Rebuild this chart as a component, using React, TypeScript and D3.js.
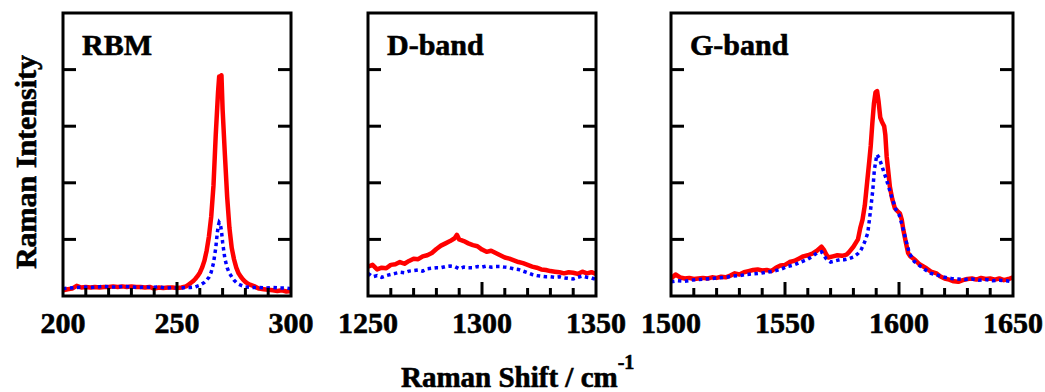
import React from 'react';
import * as d3 from 'd3';

// Raman spectra, intensity in arbitrary units (frame spans 0..5)
const rbmRed: [number, number][] = [
  [200, 0.10], [202, 0.12], [204, 0.13], [206, 0.18], [208, 0.15], [210, 0.16], [212, 0.15],
  [214, 0.16], [216, 0.15], [218, 0.16], [220, 0.16], [222, 0.17], [224, 0.16], [226, 0.17],
  [228, 0.16], [230, 0.17], [232, 0.16], [234, 0.16], [236, 0.15], [238, 0.16], [240, 0.13],
  [242, 0.15], [244, 0.14], [246, 0.15], [248, 0.15], [250, 0.14], [252, 0.15], [254, 0.17],
  [255, 0.2], [256, 0.23], [257, 0.26], [258, 0.3], [259, 0.35], [260, 0.41], [261, 0.5],
  [262, 0.62], [263, 0.8], [264, 1.05], [265, 1.4], [266, 1.95], [267, 2.85], [268, 3.6],
  [268.5, 3.88], [269, 3.8], [269.5, 3.9], [270, 3.3], [271, 2.5], [272, 1.75], [273, 1.2],
  [274, 0.85], [275, 0.65], [276, 0.5], [277, 0.4], [278, 0.34], [279, 0.29], [280, 0.25],
  [281, 0.22], [282, 0.2], [284, 0.17], [286, 0.13], [288, 0.12], [290, 0.11], [292, 0.1],
  [294, 0.09], [296, 0.1], [298, 0.08], [300, 0.09],
];
const rbmBlue: [number, number][] = [
  [200, 0.13], [203, 0.14], [206, 0.15], [209, 0.16], [212, 0.15], [215, 0.16], [218, 0.17],
  [221, 0.16], [224, 0.16], [227, 0.17], [230, 0.16], [233, 0.15], [236, 0.16], [239, 0.15],
  [242, 0.16], [245, 0.14], [248, 0.15], [251, 0.14], [254, 0.15], [256, 0.15], [258, 0.16],
  [260, 0.19], [262, 0.24], [263, 0.28], [264, 0.33], [265, 0.42], [266, 0.58], [267, 0.85],
  [267.5, 1.05], [268, 1.22], [268.5, 1.3], [269, 1.27], [269.5, 1.15], [270, 0.95], [271, 0.66],
  [272, 0.5], [273, 0.4], [274, 0.34], [275, 0.28], [276, 0.24], [277, 0.21], [278, 0.19],
  [280, 0.16], [283, 0.15], [286, 0.15], [289, 0.14], [292, 0.15], [295, 0.14], [298, 0.14],
  [300, 0.13],
];

const dRed: [number, number][] = [
  [1250, 0.52], [1252, 0.55], [1254, 0.47], [1256, 0.5], [1258, 0.49], [1260, 0.55], [1262, 0.56],
  [1264, 0.6], [1266, 0.57], [1268, 0.62], [1270, 0.66], [1272, 0.65], [1274, 0.7], [1276, 0.72],
  [1278, 0.76], [1280, 0.83], [1282, 0.89], [1284, 0.93], [1286, 0.97], [1288, 1.02], [1289, 1.08],
  [1290, 1.0], [1292, 0.97], [1294, 0.93], [1296, 0.9], [1298, 0.88], [1300, 0.82], [1302, 0.78],
  [1304, 0.8], [1306, 0.76], [1308, 0.72], [1310, 0.68], [1312, 0.66], [1314, 0.63], [1316, 0.6],
  [1318, 0.58], [1320, 0.55], [1322, 0.52], [1324, 0.5], [1326, 0.47], [1328, 0.46], [1330, 0.44],
  [1332, 0.43], [1334, 0.42], [1336, 0.4], [1338, 0.42], [1340, 0.41], [1342, 0.39], [1344, 0.43],
  [1346, 0.4], [1348, 0.42], [1350, 0.39],
];
const dBlue: [number, number][] = [
  [1250, 0.4], [1252, 0.34], [1254, 0.36], [1256, 0.33], [1258, 0.36], [1260, 0.38], [1262, 0.4],
  [1264, 0.42], [1266, 0.41], [1268, 0.44], [1270, 0.45], [1272, 0.46], [1274, 0.44], [1276, 0.48],
  [1278, 0.49], [1280, 0.5], [1282, 0.5], [1284, 0.52], [1286, 0.53], [1288, 0.52], [1290, 0.48],
  [1292, 0.51], [1294, 0.5], [1296, 0.5], [1298, 0.52], [1300, 0.51], [1302, 0.53], [1304, 0.51],
  [1306, 0.52], [1308, 0.52], [1310, 0.51], [1312, 0.5], [1314, 0.48], [1316, 0.47], [1318, 0.44],
  [1320, 0.41], [1322, 0.38], [1324, 0.36], [1326, 0.35], [1328, 0.34], [1330, 0.34], [1332, 0.33],
  [1334, 0.34], [1336, 0.32], [1338, 0.31], [1340, 0.3], [1342, 0.33], [1344, 0.35], [1346, 0.33],
  [1348, 0.32], [1350, 0.29],
];

const gRed: [number, number][] = [
  [1500, 0.31], [1502, 0.38], [1504, 0.33], [1506, 0.31], [1508, 0.32], [1510, 0.3], [1512, 0.31],
  [1514, 0.32], [1516, 0.31], [1518, 0.33], [1520, 0.32], [1522, 0.34], [1524, 0.33], [1526, 0.36],
  [1528, 0.4], [1530, 0.38], [1532, 0.42], [1534, 0.44], [1536, 0.46], [1538, 0.47], [1540, 0.45],
  [1542, 0.46], [1544, 0.44], [1546, 0.5], [1548, 0.54], [1550, 0.55], [1552, 0.6], [1554, 0.62],
  [1556, 0.66], [1558, 0.7], [1560, 0.72], [1562, 0.75], [1564, 0.8], [1566, 0.87], [1567, 0.82],
  [1568, 0.74], [1569, 0.68], [1571, 0.7], [1573, 0.72], [1575, 0.71], [1577, 0.73], [1578, 0.77],
  [1580, 0.87], [1582, 1.0], [1583, 1.2], [1584, 1.35], [1585, 1.6], [1586, 2.0], [1587, 2.4],
  [1587.6, 2.65], [1588.3, 3.05], [1589, 3.4], [1589.7, 3.6], [1590.4, 3.62], [1591, 3.45],
  [1591.8, 3.15], [1592.5, 3.08], [1593.5, 3.0], [1594, 2.85], [1594.6, 2.46], [1595.3, 2.2],
  [1596, 1.93], [1597, 1.72], [1598.2, 1.55], [1599.3, 1.5], [1600.4, 1.46], [1601.2, 1.35],
  [1601.9, 1.17], [1603, 0.95], [1604, 0.76], [1605, 0.7], [1607, 0.64], [1609, 0.56], [1612, 0.49],
  [1614, 0.43], [1616.5, 0.4], [1618, 0.35], [1620, 0.31], [1622, 0.29], [1624, 0.26], [1626, 0.25],
  [1628, 0.28], [1630, 0.3], [1632, 0.31], [1634, 0.29], [1636, 0.32], [1638, 0.3], [1640, 0.31],
  [1642, 0.29], [1644, 0.31], [1646, 0.28], [1648, 0.3], [1650, 0.33],
];
const gBlue: [number, number][] = [
  [1500, 0.25], [1503, 0.27], [1506, 0.26], [1509, 0.28], [1512, 0.29], [1515, 0.3], [1518, 0.31],
  [1521, 0.32], [1524, 0.33], [1527, 0.35], [1530, 0.36], [1533, 0.38], [1536, 0.39], [1539, 0.4],
  [1542, 0.42], [1545, 0.44], [1548, 0.47], [1551, 0.52], [1554, 0.55], [1557, 0.6], [1560, 0.65],
  [1562, 0.7], [1564, 0.76], [1566, 0.78], [1568, 0.66], [1570, 0.6], [1572, 0.62], [1574, 0.64],
  [1576, 0.64], [1578, 0.66], [1580, 0.69], [1582, 0.75], [1583.3, 0.81], [1584.8, 0.94],
  [1586.3, 1.11], [1587, 1.34], [1587.7, 1.58], [1588.5, 1.87], [1589.2, 2.23], [1590.3, 2.5],
  [1591.3, 2.44], [1592.8, 2.26], [1594.3, 2.08], [1595.6, 1.91], [1597.2, 1.7], [1598.7, 1.52],
  [1600.1, 1.43], [1601.6, 1.22], [1603, 0.99], [1604.5, 0.76], [1606.7, 0.61], [1609.6, 0.52],
  [1612, 0.45], [1614, 0.4], [1617.5, 0.36], [1620, 0.33], [1623, 0.31], [1626, 0.3], [1629, 0.29],
  [1632, 0.3], [1635, 0.28], [1638, 0.29], [1641, 0.27], [1644, 0.28], [1647, 0.27], [1650, 0.25],
];

const panelTitles = ['RBM', 'D-band', 'G-band'];
const rbmTicks = [200, 250, 300];
const dTicks = [1250, 1300, 1350];
const gTicks = [1500, 1550, 1600, 1650];
const yTicks = [1, 2, 3, 4];

const font = '"Liberation Serif", "Times New Roman", serif';
const top = 13;
const bottom = 296;
const pxPerUnit = 2.28;

const panels = [
  { title: panelTitles[0], left: 63, domain: [200, 300], ticks: rbmTicks, red: rbmRed, blue: rbmBlue },
  { title: panelTitles[1], left: 368, domain: [1250, 1350], ticks: dTicks, red: dRed, blue: dBlue },
  { title: panelTitles[2], left: 671, domain: [1500, 1650], ticks: gTicks, red: gRed, blue: gBlue },
];

// heavy bold text, like the reference's blocky serif glyphs
const heavy = { fontFamily: font, fontWeight: 'bold' as const, stroke: '#000', strokeWidth: 0.6 };

function Panel({ p, idx }: { p: typeof panels[number]; idx: number }) {
  const width = (p.domain[1] - p.domain[0]) * pxPerUnit;
  const x = d3.scaleLinear().domain(p.domain).range([p.left, p.left + width]);
  const y = d3.scaleLinear().domain([0, 5]).range([bottom, top]);
  const line = d3.line<[number, number]>().x(d => x(d[0])).y(d => y(d[1]));
  const minor = d3.range(p.domain[0] + 10, p.domain[1], 10).filter(v => v % 50 !== 0);
  const major = p.ticks.filter(v => v > p.domain[0] && v < p.domain[1]);
  const clipId = `clip${idx}`;
  return (
    <g>
      <defs>
        <clipPath id={clipId}>
          <rect x={p.left} y={top} width={width} height={bottom - top} />
        </clipPath>
      </defs>
      <g clipPath={`url(#${clipId})`}>
        <path d={line(p.red) || ''} fill="none" stroke="#ff0000" strokeWidth={4.5} strokeLinejoin="round" />
        <path d={line(p.blue) || ''} fill="none" stroke="#0000ff" strokeWidth={3.5} strokeDasharray="3.5 3.5" />
      </g>
      {yTicks.map(t => (
        <g key={t} stroke="#000" strokeWidth={3}>
          <line x1={p.left} x2={p.left + 13} y1={y(t)} y2={y(t)} />
          <line x1={p.left + width - 13} x2={p.left + width} y1={y(t)} y2={y(t)} />
        </g>
      ))}
      {minor.map(t => (
        <line key={t} x1={x(t)} x2={x(t)} y1={bottom} y2={bottom - 8} stroke="#000" strokeWidth={3} />
      ))}
      {major.map(t => (
        <line key={t} x1={x(t)} x2={x(t)} y1={bottom} y2={bottom - 14} stroke="#000" strokeWidth={3} />
      ))}
      <rect x={p.left} y={top} width={width} height={bottom - top} fill="none" stroke="#000" strokeWidth={3} />
      {p.ticks.map(t => (
        <text key={t} x={x(t)} y={333} textAnchor="middle" fontSize={30} {...heavy}>
          {t}
        </text>
      ))}
      <text x={p.left + 19} y={55} fontSize={30} {...heavy}>{p.title}</text>
    </g>
  );
}

export default function App() {
  return (
    <svg width={1045} height={392} style={{ position: 'absolute', left: 0, top: 0, background: '#fff' }}>
      <rect width={1045} height={392} fill="#fff" />
      {panels.map((p, i) => <Panel key={p.title} p={p} idx={i} />)}
      <text transform="translate(36,162) rotate(-90)" textAnchor="middle" fontSize={30} {...heavy}>
        Raman Intensity
      </text>
      <text x={401} y={387} fontSize={29} {...heavy}>
        Raman Shift / cm<tspan dy={-18} fontSize={20}>-1</tspan>
      </text>
    </svg>
  );
}
